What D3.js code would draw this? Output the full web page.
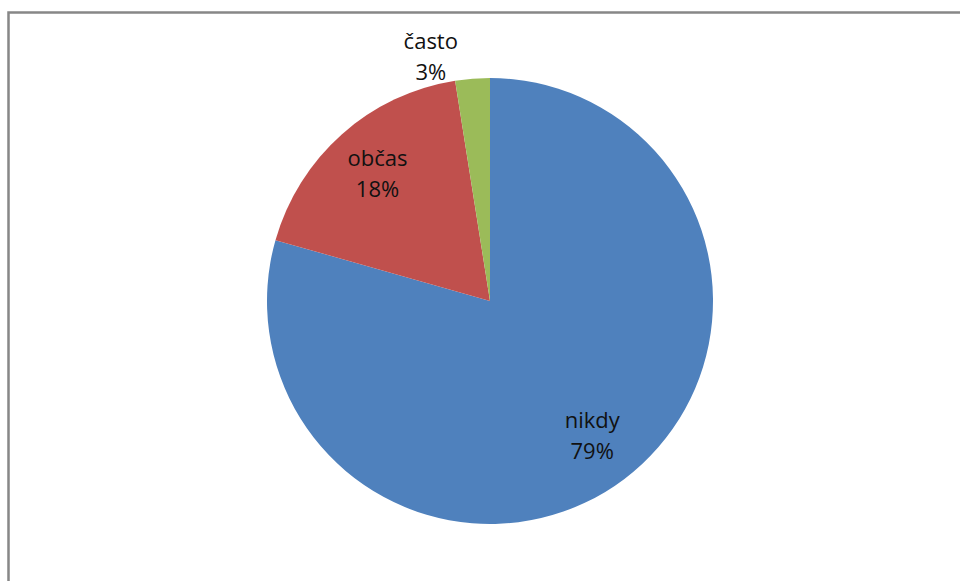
<!DOCTYPE html>
<html>
<head>
<meta charset="utf-8">
<script src="https://cdnjs.cloudflare.com/ajax/libs/d3/7.8.5/d3.min.js"></script>
<style>
  body { margin: 0; background: #fff; }
  svg { display: block; }
</style>
</head>
<body>
<div id="chart"></div>
<script>
// slice data (clockwise from 12 o'clock)
var categories = ["nikdy", "občas", "často"];
var values = [79.4, 18.1, 2.5];
var colors = ["#4F81BD", "#C0504D", "#9BBB59"];

var width = 960, height = 581;
var cx = 490, cy = 301, radius = 223;

var svg = d3.select("#chart")
    .append("svg")
    .attr("width", width)
    .attr("height", height);

// chart frame (right/bottom edges run off the picture)
svg.append("rect")
    .attr("x", 8.5)
    .attr("y", 12.5)
    .attr("width", 1000)
    .attr("height", 1000)
    .attr("fill", "none")
    .attr("stroke", "#878787")
    .attr("stroke-width", 2.5);

var data = categories.map(function(c, i) {
    return { name: c, value: values[i], color: colors[i] };
});

var pie = d3.pie()
    .sort(null)
    .value(function(d) { return d.value; });

var arc = d3.arc()
    .innerRadius(0)
    .outerRadius(radius);

var labelArc = d3.arc()
    .innerRadius(radius * 0.76)
    .outerRadius(radius * 0.76);

var outerArc = d3.arc()
    .innerRadius(radius + 22)
    .outerRadius(radius + 22);

var g = svg.append("g")
    .attr("transform", "translate(" + cx + "," + cy + ")");

var arcs = pie(data);

g.selectAll("path.slice")
    .data(arcs)
    .enter().append("path")
    .attr("class", "slice")
    .attr("d", arc)
    .attr("fill", function(d) { return d.data.color; });

var total = d3.sum(values);

var labels = g.selectAll("text.lbl")
    .data(arcs)
    .enter().append("text")
    .attr("class", "lbl")
    .attr("font-family", "'Open Sans', sans-serif")
    .attr("font-size", 22)
    .attr("fill", "#111")
    .attr("text-anchor", "middle")
    .attr("transform", function(d) {
        var small = (d.endAngle - d.startAngle) < 0.3;
        var p = small ? outerArc.centroid(d) : labelArc.centroid(d);
        if (small) p[0] -= 40;
        return "translate(" + p[0] + "," + p[1] + ")";
    });

labels.append("tspan")
    .attr("x", 0)
    .attr("y", -8)
    .text(function(d) { return d.data.name; });

labels.append("tspan")
    .attr("x", 0)
    .attr("y", 23)
    .text(function(d) { return Math.round(d.data.value / total * 100) + "%"; });
</script>
</body>
</html>
